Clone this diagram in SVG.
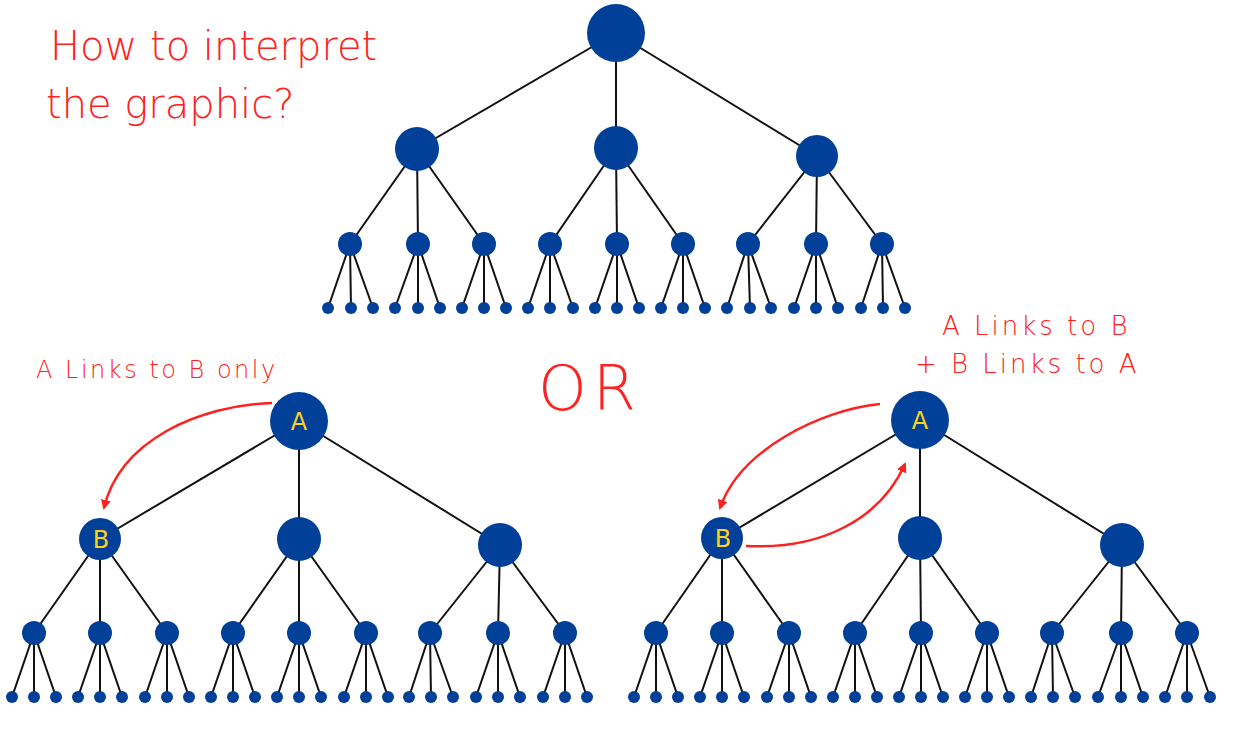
<svg xmlns="http://www.w3.org/2000/svg" width="1240" height="738" viewBox="0 0 1240 738">
<style>
.e line{stroke:#111;stroke-width:2}
.n{fill:#004098}
.hw{font-family:"DejaVu Sans",sans-serif;fill:#ff2020;font-weight:300}
.lab{font-family:"DejaVu Sans",sans-serif;fill:#ffd21a;font-size:24px;text-anchor:middle}
.arr{fill:none;stroke:#ff2020;stroke-width:2.5}
</style>
<defs><marker id="ah" markerWidth="10" markerHeight="10" refX="8" refY="5" orient="auto" markerUnits="userSpaceOnUse"><path d="M0,0 L10,5 L0,10 Z" fill="#ff2020"/></marker></defs>
<rect width="1240" height="738" fill="#fff"/>
<g id="connectors" class="e">
<line x1="616" y1="33" x2="417" y2="149"/><line x1="616" y1="33" x2="616" y2="148"/><line x1="616" y1="33" x2="817" y2="156"/>
<line x1="417" y1="149" x2="350" y2="244"/><line x1="417" y1="149" x2="418" y2="244"/><line x1="417" y1="149" x2="484" y2="244"/>
<line x1="616" y1="148" x2="550" y2="244"/><line x1="616" y1="148" x2="617" y2="244"/><line x1="616" y1="148" x2="683" y2="244"/>
<line x1="817" y1="156" x2="748" y2="244"/><line x1="817" y1="156" x2="816" y2="244"/><line x1="817" y1="156" x2="882" y2="244"/>
<line x1="299" y1="421" x2="100" y2="539"/><line x1="299" y1="421" x2="299" y2="539"/><line x1="299" y1="421" x2="500" y2="545"/>
<line x1="100" y1="539" x2="34" y2="633"/><line x1="100" y1="539" x2="100" y2="633"/><line x1="100" y1="539" x2="167" y2="633"/>
<line x1="299" y1="539" x2="233" y2="633"/><line x1="299" y1="539" x2="299" y2="633"/><line x1="299" y1="539" x2="366" y2="633"/>
<line x1="500" y1="545" x2="430" y2="633"/><line x1="500" y1="545" x2="498" y2="633"/><line x1="500" y1="545" x2="565" y2="633"/>
<line x1="920" y1="420" x2="722" y2="538"/><line x1="920" y1="420" x2="920" y2="538"/><line x1="920" y1="420" x2="1122" y2="545"/>
<line x1="722" y1="538" x2="656" y2="633"/><line x1="722" y1="538" x2="722" y2="633"/><line x1="722" y1="538" x2="789" y2="633"/>
<line x1="920" y1="538" x2="855" y2="633"/><line x1="920" y1="538" x2="921" y2="633"/><line x1="920" y1="538" x2="987" y2="633"/>
<line x1="1122" y1="545" x2="1052" y2="633"/><line x1="1122" y1="545" x2="1121" y2="633"/><line x1="1122" y1="545" x2="1187" y2="633"/>
<line x1="350" y1="244" x2="328" y2="308"/><line x1="350" y1="244" x2="351" y2="308"/><line x1="350" y1="244" x2="373" y2="308"/>
<line x1="418" y1="244" x2="395" y2="308"/><line x1="418" y1="244" x2="418" y2="308"/><line x1="418" y1="244" x2="440" y2="308"/>
<line x1="484" y1="244" x2="462" y2="308"/><line x1="484" y1="244" x2="484" y2="308"/><line x1="484" y1="244" x2="506" y2="308"/>
<line x1="550" y1="244" x2="528" y2="308"/><line x1="550" y1="244" x2="550" y2="308"/><line x1="550" y1="244" x2="573" y2="308"/>
<line x1="617" y1="244" x2="595" y2="308"/><line x1="617" y1="244" x2="617" y2="308"/><line x1="617" y1="244" x2="639" y2="308"/>
<line x1="683" y1="244" x2="661" y2="308"/><line x1="683" y1="244" x2="683" y2="308"/><line x1="683" y1="244" x2="705" y2="308"/>
<line x1="748" y1="244" x2="727" y2="308"/><line x1="748" y1="244" x2="750" y2="308"/><line x1="748" y1="244" x2="771" y2="308"/>
<line x1="816" y1="244" x2="794" y2="308"/><line x1="816" y1="244" x2="816" y2="308"/><line x1="816" y1="244" x2="838" y2="308"/>
<line x1="882" y1="244" x2="861" y2="308"/><line x1="882" y1="244" x2="883" y2="308"/><line x1="882" y1="244" x2="905" y2="308"/>
<line x1="34" y1="633" x2="12" y2="697"/><line x1="34" y1="633" x2="34" y2="697"/><line x1="34" y1="633" x2="56" y2="697"/>
<line x1="100" y1="633" x2="78" y2="697"/><line x1="100" y1="633" x2="100" y2="697"/><line x1="100" y1="633" x2="122" y2="697"/>
<line x1="167" y1="633" x2="145" y2="697"/><line x1="167" y1="633" x2="167" y2="697"/><line x1="167" y1="633" x2="189" y2="697"/>
<line x1="233" y1="633" x2="211" y2="697"/><line x1="233" y1="633" x2="233" y2="697"/><line x1="233" y1="633" x2="255" y2="697"/>
<line x1="299" y1="633" x2="277" y2="697"/><line x1="299" y1="633" x2="299" y2="697"/><line x1="299" y1="633" x2="321" y2="697"/>
<line x1="366" y1="633" x2="344" y2="697"/><line x1="366" y1="633" x2="366" y2="697"/><line x1="366" y1="633" x2="388" y2="697"/>
<line x1="430" y1="633" x2="409" y2="697"/><line x1="430" y1="633" x2="431" y2="697"/><line x1="430" y1="633" x2="453" y2="697"/>
<line x1="498" y1="633" x2="476" y2="697"/><line x1="498" y1="633" x2="498" y2="697"/><line x1="498" y1="633" x2="520" y2="697"/>
<line x1="565" y1="633" x2="543" y2="697"/><line x1="565" y1="633" x2="565" y2="697"/><line x1="565" y1="633" x2="587" y2="697"/>
<line x1="656" y1="633" x2="634" y2="697"/><line x1="656" y1="633" x2="656" y2="697"/><line x1="656" y1="633" x2="678" y2="697"/>
<line x1="722" y1="633" x2="700" y2="697"/><line x1="722" y1="633" x2="722" y2="697"/><line x1="722" y1="633" x2="744" y2="697"/>
<line x1="789" y1="633" x2="767" y2="697"/><line x1="789" y1="633" x2="789" y2="697"/><line x1="789" y1="633" x2="811" y2="697"/>
<line x1="855" y1="633" x2="833" y2="697"/><line x1="855" y1="633" x2="855" y2="697"/><line x1="855" y1="633" x2="877" y2="697"/>
<line x1="921" y1="633" x2="899" y2="697"/><line x1="921" y1="633" x2="921" y2="697"/><line x1="921" y1="633" x2="943" y2="697"/>
<line x1="987" y1="633" x2="965" y2="697"/><line x1="987" y1="633" x2="987" y2="697"/><line x1="987" y1="633" x2="1009" y2="697"/>
<line x1="1052" y1="633" x2="1031" y2="697"/><line x1="1052" y1="633" x2="1053" y2="697"/><line x1="1052" y1="633" x2="1075" y2="697"/>
<line x1="1121" y1="633" x2="1098" y2="697"/><line x1="1121" y1="633" x2="1121" y2="697"/><line x1="1121" y1="633" x2="1143" y2="697"/>
<line x1="1187" y1="633" x2="1165" y2="697"/><line x1="1187" y1="633" x2="1187" y2="697"/><line x1="1187" y1="633" x2="1210" y2="697"/>
</g>
<g id="top-tree" class="n">
<circle cx="616" cy="33" r="29"/><circle cx="417" cy="149" r="22"/><circle cx="616" cy="148" r="22"/><circle cx="817" cy="156" r="21"/>
<g id="top-l3"><circle cx="350" cy="244" r="12"/><circle cx="418" cy="244" r="12"/><circle cx="484" cy="244" r="12"/><circle cx="550" cy="244" r="12"/><circle cx="617" cy="244" r="12"/><circle cx="683" cy="244" r="12"/><circle cx="748" cy="244" r="12"/><circle cx="816" cy="244" r="12"/><circle cx="882" cy="244" r="12"/></g>
<g id="top-leaves"><circle cx="328" cy="308" r="6"/><circle cx="351" cy="308" r="6"/><circle cx="373" cy="308" r="6"/><circle cx="395" cy="308" r="6"/><circle cx="418" cy="308" r="6"/><circle cx="440" cy="308" r="6"/><circle cx="462" cy="308" r="6"/><circle cx="484" cy="308" r="6"/><circle cx="506" cy="308" r="6"/><circle cx="528" cy="308" r="6"/><circle cx="550" cy="308" r="6"/><circle cx="573" cy="308" r="6"/><circle cx="595" cy="308" r="6"/><circle cx="617" cy="308" r="6"/><circle cx="639" cy="308" r="6"/><circle cx="661" cy="308" r="6"/><circle cx="683" cy="308" r="6"/><circle cx="705" cy="308" r="6"/><circle cx="727" cy="308" r="6"/><circle cx="750" cy="308" r="6"/><circle cx="771" cy="308" r="6"/><circle cx="794" cy="308" r="6"/><circle cx="816" cy="308" r="6"/><circle cx="838" cy="308" r="6"/><circle cx="861" cy="308" r="6"/><circle cx="883" cy="308" r="6"/><circle cx="905" cy="308" r="6"/></g>
</g>
<g id="left-tree" class="n">
<circle id="left-A" cx="299" cy="421" r="29"/><circle id="left-B" cx="100" cy="539" r="21"/><circle cx="299" cy="539" r="22"/><circle cx="500" cy="545" r="22"/>
<circle cx="34" cy="633" r="12"/><circle cx="100" cy="633" r="12"/><circle cx="167" cy="633" r="12"/><circle cx="233" cy="633" r="12"/><circle cx="299" cy="633" r="12"/><circle cx="366" cy="633" r="12"/><circle cx="430" cy="633" r="12"/><circle cx="498" cy="633" r="12"/><circle cx="565" cy="633" r="12"/>
<circle cx="12" cy="697" r="6"/><circle cx="34" cy="697" r="6"/><circle cx="56" cy="697" r="6"/><circle cx="78" cy="697" r="6"/><circle cx="100" cy="697" r="6"/><circle cx="122" cy="697" r="6"/><circle cx="145" cy="697" r="6"/><circle cx="167" cy="697" r="6"/><circle cx="189" cy="697" r="6"/><circle cx="211" cy="697" r="6"/><circle cx="233" cy="697" r="6"/><circle cx="255" cy="697" r="6"/><circle cx="277" cy="697" r="6"/><circle cx="299" cy="697" r="6"/><circle cx="321" cy="697" r="6"/><circle cx="344" cy="697" r="6"/><circle cx="366" cy="697" r="6"/><circle cx="388" cy="697" r="6"/><circle cx="409" cy="697" r="6"/><circle cx="431" cy="697" r="6"/><circle cx="453" cy="697" r="6"/><circle cx="476" cy="697" r="6"/><circle cx="498" cy="697" r="6"/><circle cx="520" cy="697" r="6"/><circle cx="543" cy="697" r="6"/><circle cx="565" cy="697" r="6"/><circle cx="587" cy="697" r="6"/>
</g>
<g id="right-tree" class="n">
<circle id="right-A" cx="920" cy="420" r="29"/><circle id="right-B" cx="722" cy="538" r="21"/><circle cx="920" cy="538" r="22"/><circle cx="1122" cy="545" r="22"/>
<circle cx="656" cy="633" r="12"/><circle cx="722" cy="633" r="12"/><circle cx="789" cy="633" r="12"/><circle cx="855" cy="633" r="12"/><circle cx="921" cy="633" r="12"/><circle cx="987" cy="633" r="12"/><circle cx="1052" cy="633" r="12"/><circle cx="1121" cy="633" r="12"/><circle cx="1187" cy="633" r="12"/>
<circle cx="634" cy="697" r="6"/><circle cx="656" cy="697" r="6"/><circle cx="678" cy="697" r="6"/><circle cx="700" cy="697" r="6"/><circle cx="722" cy="697" r="6"/><circle cx="744" cy="697" r="6"/><circle cx="767" cy="697" r="6"/><circle cx="789" cy="697" r="6"/><circle cx="811" cy="697" r="6"/><circle cx="833" cy="697" r="6"/><circle cx="855" cy="697" r="6"/><circle cx="877" cy="697" r="6"/><circle cx="899" cy="697" r="6"/><circle cx="921" cy="697" r="6"/><circle cx="943" cy="697" r="6"/><circle cx="965" cy="697" r="6"/><circle cx="987" cy="697" r="6"/><circle cx="1009" cy="697" r="6"/><circle cx="1031" cy="697" r="6"/><circle cx="1053" cy="697" r="6"/><circle cx="1075" cy="697" r="6"/><circle cx="1098" cy="697" r="6"/><circle cx="1121" cy="697" r="6"/><circle cx="1143" cy="697" r="6"/><circle cx="1165" cy="697" r="6"/><circle cx="1187" cy="697" r="6"/><circle cx="1210" cy="697" r="6"/>
</g>
<g id="labels">
<text class="lab" x="299" y="430">A</text><text class="lab" x="101" y="548">B</text>
<text class="lab" x="920" y="429">A</text><text class="lab" x="723" y="547">B</text>
</g>
<g id="red-arrows">
<path class="arr" d="M272,403 C200,405 120,440 104,508" marker-end="url(#ah)"/>
<path class="arr" d="M880,404 C820,410 740,450 720,508" marker-end="url(#ah)"/>
<path class="arr" d="M746,546 C820,550 880,520 905,464" marker-end="url(#ah)"/>
</g>
<g id="notes">
<text class="hw" x="50" y="60" font-size="40">How to interpret</text>
<text class="hw" x="46" y="118" font-size="40">the graphic?</text>
<text class="hw" x="36" y="378" font-size="24" letter-spacing="2.5">A Links to B only</text>
<text class="hw" x="538" y="410" font-size="62" letter-spacing="6">OR</text>
<text class="hw" x="942" y="335" font-size="26" letter-spacing="3">A Links to B</text>
<text class="hw" x="915" y="373" font-size="26" letter-spacing="3">+ B Links to A</text>
</g>
</svg>
